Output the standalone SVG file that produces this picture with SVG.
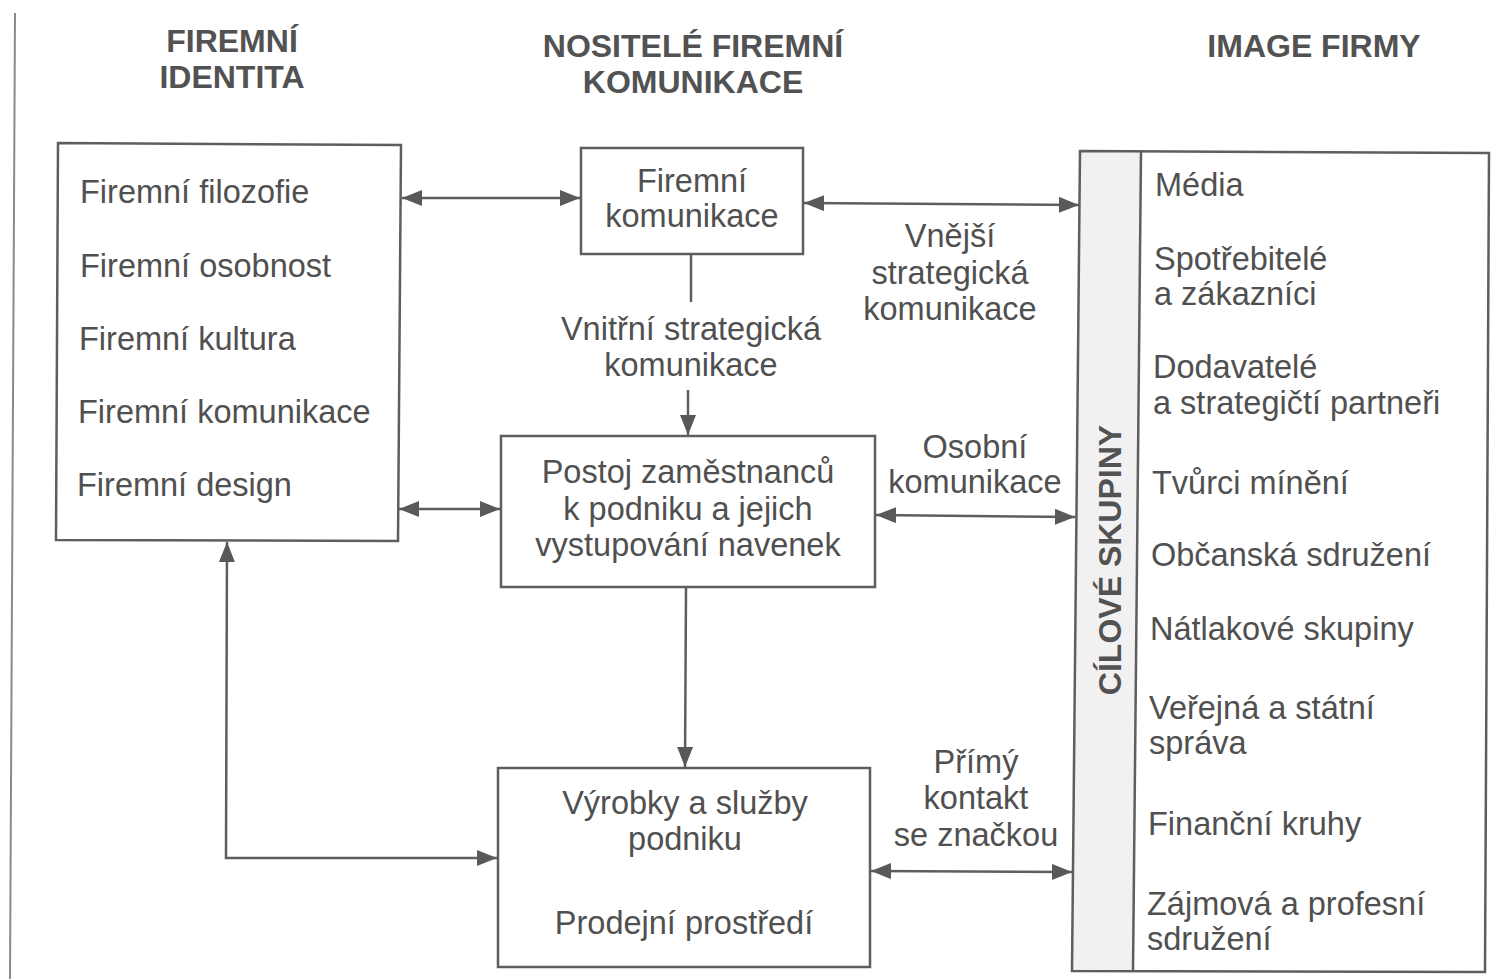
<svg xmlns="http://www.w3.org/2000/svg" width="1512" height="979" viewBox="0 0 1512 979">
<defs>
<marker id="ah" markerUnits="userSpaceOnUse" markerWidth="22" markerHeight="18" refX="20" refY="8" orient="auto-start-reverse" viewBox="0 0 22 18">
<path d="M0,0 L20,8 L0,16 z" fill="#595959"/>
</marker>
<style>
.t{font-family:"Liberation Sans",Arial,sans-serif;font-size:32.5px;fill:#505050}
.h{font-family:"Liberation Sans",Arial,sans-serif;font-size:32px;font-weight:bold;fill:#525252;text-anchor:middle}
.c{text-anchor:middle}
.box{fill:none;stroke:#5e5e5e;stroke-width:2.5}
.ln{fill:none;stroke:#5e5e5e;stroke-width:2.5}
.arr{fill:none;stroke:#5e5e5e;stroke-width:2.5;marker-end:url(#ah)}
.arr2{fill:none;stroke:#5e5e5e;stroke-width:2.5;marker-start:url(#ah);marker-end:url(#ah)}
</style>
</defs>
<rect width="1512" height="979" fill="#ffffff"/>
<line x1="15" y1="13" x2="10" y2="979" stroke="#8a8a8a" stroke-width="2"/>

<g id="headers">
<text class="h" x="232" y="52">FIREMNÍ</text>
<text class="h" x="232" y="88">IDENTITA</text>
<text class="h" x="693" y="57">NOSITELÉ FIREMNÍ</text>
<text class="h" x="693" y="93">KOMUNIKACE</text>
<text class="h" x="1314" y="57">IMAGE FIRMY</text>
</g>

<g id="firemni-identita">
<polygon class="box" points="58,143 401,145 398,541 56,540"/>
<text class="t" x="80" y="203">Firemní filozofie</text>
<text class="t" x="80" y="277">Firemní osobnost</text>
<text class="t" x="79" y="350">Firemní kultura</text>
<text class="t" x="78" y="423">Firemní komunikace</text>
<text class="t" x="77" y="496">Firemní design</text>
</g>

<g id="firemni-komunikace">
<rect class="box" x="581" y="148" width="222" height="106"/>
<text class="t c" x="692" y="192">Firemní</text>
<text class="t c" x="692" y="227">komunikace</text>
</g>

<g id="postoj">
<rect class="box" x="501" y="436" width="374" height="151"/>
<text class="t c" x="688" y="483">Postoj zaměstnanců</text>
<text class="t c" x="688" y="520">k podniku a jejich</text>
<text class="t c" x="688" y="556">vystupování navenek</text>
</g>

<g id="vyrobky">
<rect class="box" x="498" y="768" width="372" height="199"/>
<text class="t c" x="685" y="814">Výrobky a služby</text>
<text class="t c" x="685" y="850">podniku</text>
<text class="t c" x="684" y="934">Prodejní prostředí</text>
</g>

<g id="cilove-skupiny">
<polygon points="1080,151 1141,151 1133,971 1072,971" fill="#f1f1f1"/>
<polygon class="box" points="1080,151 1489,153 1485,972 1072,971"/>
<line class="ln" x1="1141" y1="151" x2="1133" y2="971"/>
<text class="h" transform="translate(1121,560) rotate(-90)" x="0" y="0">CÍLOVÉ SKUPINY</text>
<text class="t" x="1155" y="196">Média</text>
<text class="t" x="1154" y="270">Spotřebitelé</text>
<text class="t" x="1154" y="305">a zákazníci</text>
<text class="t" x="1153" y="378">Dodavatelé</text>
<text class="t" x="1153" y="414">a strategičtí partneři</text>
<text class="t" x="1152" y="494">Tvůrci mínění</text>
<text class="t" x="1151" y="566">Občanská sdružení</text>
<text class="t" x="1150" y="640">Nátlakové skupiny</text>
<text class="t" x="1149" y="719">Veřejná a státní</text>
<text class="t" x="1149" y="754">správa</text>
<text class="t" x="1148" y="835">Finanční kruhy</text>
<text class="t" x="1147" y="915">Zájmová a profesní</text>
<text class="t" x="1147" y="950">sdružení</text>
</g>

<g id="connectors">
<line class="arr2" x1="402" y1="198" x2="580" y2="198"/>
<line class="arr2" x1="804" y1="203" x2="1079" y2="205"/>
<line class="ln" x1="691" y1="254" x2="691" y2="302"/>
<line class="arr" x1="688" y1="390" x2="688" y2="435"/>
<line class="arr2" x1="399" y1="509" x2="500" y2="509"/>
<line class="arr2" x1="876" y1="515" x2="1075" y2="517"/>
<line class="arr" x1="686" y1="588" x2="685" y2="767"/>
<line class="arr2" x1="871" y1="871" x2="1072" y2="872"/>
<polyline class="arr2" points="227,542 226,858 497,858"/>
</g>

<g id="labels">
<text class="t c" x="691" y="340">Vnitřní strategická</text>
<text class="t c" x="691" y="376">komunikace</text>
<text class="t c" x="950" y="247">Vnější</text>
<text class="t c" x="950" y="284">strategická</text>
<text class="t c" x="950" y="320">komunikace</text>
<text class="t c" x="975" y="458">Osobní</text>
<text class="t c" x="975" y="493">komunikace</text>
<text class="t c" x="976" y="773">Přímý</text>
<text class="t c" x="976" y="809">kontakt</text>
<text class="t c" x="976" y="846">se značkou</text>
</g>
</svg>
